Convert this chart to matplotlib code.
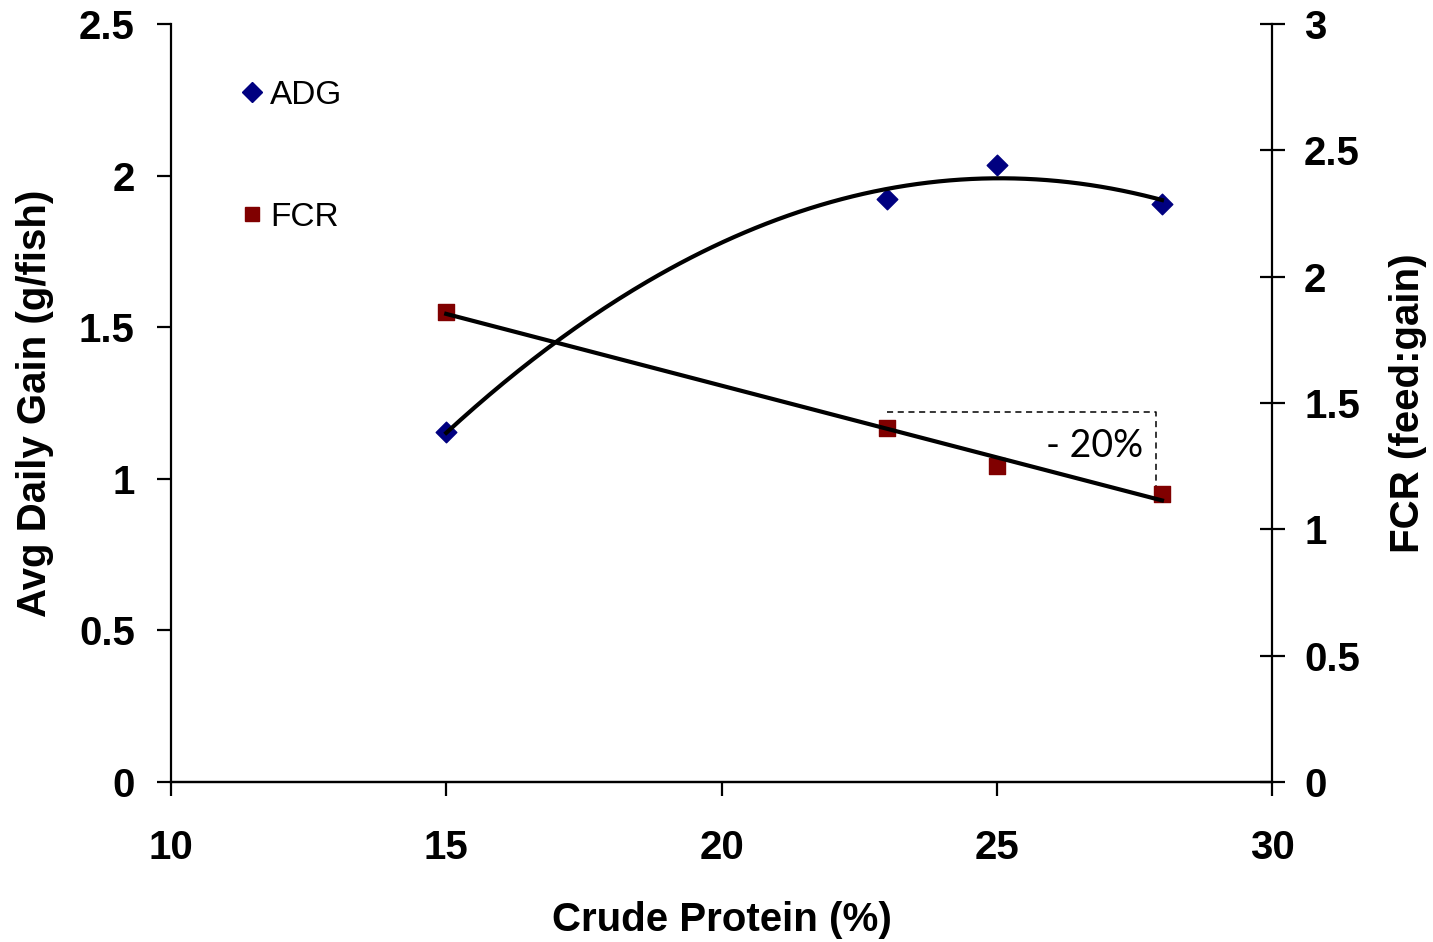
import numpy as np
import matplotlib.pyplot as plt
from matplotlib.lines import Line2D

# Data
protein = [15, 23, 25, 28]                 # crude protein (%)
adg = [1.154, 1.923, 2.035, 1.906]         # avg daily gain (g/fish), left axis
fcr = [1.86, 1.40, 1.25, 1.14]             # feed conversion ratio, right axis

x_ticks = [10, 15, 20, 25, 30]
left_ticks = [0, 0.5, 1, 1.5, 2, 2.5]
right_ticks = [0, 0.5, 1, 1.5, 2, 2.5, 3]

plt.rcParams['font.family'] = ['Liberation Sans', 'DejaVu Sans']

fig = plt.figure(figsize=(14.33, 9.42), dpi=100)
ax = fig.add_axes([0.1193, 0.1699, 0.7684, 0.8046])
ax2 = ax.twinx()

navy = '#000080'
darkred = '#800000'

# ADG points and 2nd order trend line (Excel-style polynomial trendline)
ax.scatter(protein, adg, marker='D', s=110, color=navy, zorder=3)
cadg = np.polyfit(protein, adg, 2)
xx = np.linspace(protein[0], protein[-1], 200)
ax.plot(xx, np.polyval(cadg, xx), color='black', lw=3, zorder=4)

# FCR points and linear trend line
ax2.scatter(protein, fcr, marker='s', s=120, color=darkred, zorder=3)
cfcr = np.polyfit(protein, fcr, 1)
ax2.plot([protein[0], protein[-1]], np.polyval(cfcr, [protein[0], protein[-1]]),
         color='black', lw=3, zorder=4)

# dashed bracket with the -20% note
ax2.plot([23, 27.9, 27.9], [1.464, 1.464, 1.13], color='black', lw=1.1,
         ls=(0, (4, 3)), zorder=2)
ax2.text(26.78, 1.33, '- 20%', fontsize=27, family=['Lato', 'DejaVu Sans'],
         ha='center', va='center')

ax.set_xlim(10, 30)
ax.set_ylim(0, 2.5)
ax2.set_ylim(0, 3)
ax.set_xticks(x_ticks)
ax.set_yticks(left_ticks)
ax.set_yticklabels(['0', '0.5', '1', '1.5', '2', '2.5'])
ax2.set_yticks(right_ticks)
ax2.set_yticklabels(['0', '0.5', '1', '1.5', '2', '2.5', '3'])

for a in (ax, ax2):
    a.spines['top'].set_visible(False)
    for s in a.spines.values():
        s.set_linewidth(1.6)
ax2.spines['left'].set_visible(False)
ax.spines['right'].set_visible(False)

ax.tick_params(axis='x', direction='out', length=10, width=1.6, pad=24,
               labelsize=29)
ax.tick_params(axis='y', direction='out', length=10, width=1.6, pad=16,
               labelsize=29)
ax2.tick_params(axis='y', direction='inout', length=18, width=1.6, pad=14,
                labelsize=29)
for lab in ax.get_xticklabels() + ax.get_yticklabels() + ax2.get_yticklabels():
    lab.set_fontweight('bold')

ax.set_xlabel('Crude Protein (%)', fontsize=29, fontweight='bold', labelpad=24)
ax.set_ylabel('Avg Daily Gain (g/fish)', fontsize=29, fontweight='bold', labelpad=18)
ax2.set_ylabel('FCR (feed:gain)', fontsize=29, fontweight='bold', labelpad=21)

handles = [
    Line2D([], [], marker='D', color=navy, ls='none', markersize=10),
    Line2D([], [], marker='s', color=darkred, ls='none', markersize=10.5),
]
fig.legend(handles, ['ADG', 'FCR'], loc='upper left',
           bbox_to_anchor=(0.142, 0.947), frameon=False, fontsize=24,
           labelspacing=2.72, handletextpad=0.0, handlelength=1.1)

fig.savefig('out.png', dpi=100)
